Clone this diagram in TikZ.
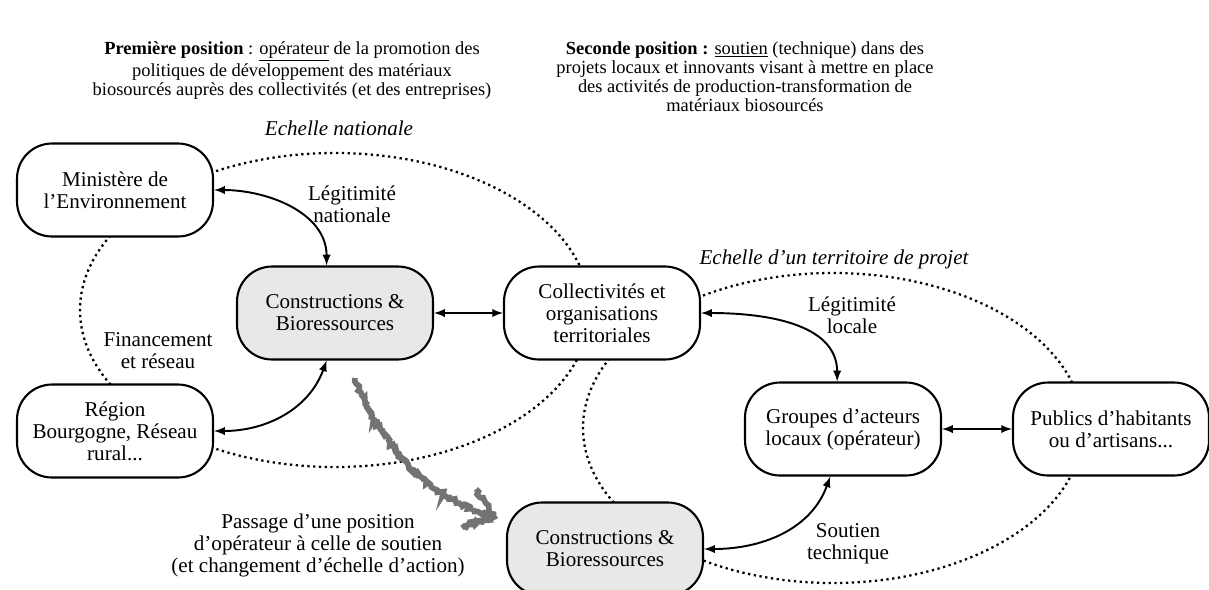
\documentclass[tikz,border=0pt]{standalone}
\usepackage{fontspec}
\setmainfont{Liberation Serif}
\usetikzlibrary{backgrounds,decorations.pathmorphing}
\colorlet{coregray}{black!9}
\colorlet{shiftgray}{black!55}
\newcommand{\boxfont}{\fontsize{12}{12.5}\selectfont}
\newcommand{\headfont}{\fontsize{10.5}{10.8}\selectfont}
\tikzset{
  box/.style = {
    draw, line width=1.2pt, fill=white, rounded corners=0.7cm,
    minimum width=3.92cm, minimum height=1.86cm,
    align=center, font=\boxfont
  },
  core/.style = {box, fill=coregray},
  link/.style = {<->, line width=1.1pt},
  scaleline/.style = {dotted, line width=1.3pt},
  label/.style = {align=center, font=\boxfont},
  moveline/.style = {
    shiftgray, line width=3.2pt,
    decoration={random steps, segment length=1.2pt, amplitude=1.2pt},
    decorate
  }
}
\tikzset{>=latex}

\begin{document}
\begin{tikzpicture}[x=0.02cm,y=-0.02cm]
  \useasboundingbox (0,0) rectangle (1209,589);

  % the two positions
  \node[align=center, font=\headfont, anchor=north, inner sep=0] (pos1) at (292,41)
    {\textbf{Première position} : \underline{opérateur} de la promotion des\\
     politiques de développement des matériaux\\
     biosourcés auprès des collectivités (et des entreprises)};
  \node[align=center, font=\headfont, anchor=north, inner sep=0] (pos2) at (745,41)
    {\textbf{Seconde position :} \underline{soutien} (technique) dans des\\
     projets locaux et innovants visant à mettre en place\\
     des activités de production-transformation de\\
     matériaux biosourcés};

  % actors
  \node[box]  (min) at (115,190) {Ministère de\\l'Environnement};
  \node[core] (cb1) at (335,313) {Constructions \&\\Bioressources};
  \node[box]  (col) at (602,313) {Collectivités et\\organisations\\territoriales};
  \node[box]  (reg) at (115,431) {Région\\Bourgogne, Réseau\\rural...};
  \node[box]  (grp) at (843,429) {Groupes d'acteurs\\locaux (opérateur)};
  \node[box]  (pub) at (1111,429) {Publics d'habitants\\ou d'artisans...};
  \node[core] (cb2) at (605,549) {Constructions \&\\Bioressources};

  % scales
  \node[label, font=\boxfont\itshape] (nat) at (339,128) {Echelle nationale};
  \node[label, font=\boxfont\itshape] (loc) at (834,259) {Echelle d'un territoire de projet};
  \begin{scope}[on background layer]
    \draw[scaleline] (335,310) ellipse [x radius=255, y radius=157];
    \draw[scaleline] (833,428) ellipse [x radius=250, y radius=155];
  \end{scope}

  % relations
  \node[label] (legnat) at (352,204) {Légitimité\\nationale};
  \node[label] (fin) at (158,351) {Financement\\et réseau};
  \node[label] (legloc) at (852,315) {Légitimité\\locale};
  \node[label] (sout) at (848,544) {Soutien\\technique};
  \draw[link] (min.east) to[out=0,in=90] (cb1.100);
  \draw[link] (reg.east) to[out=0,in=-110] (cb1.-100);
  \draw[link] (cb1.east) -- (col.west);
  \draw[link] (col.east) to[out=0,in=90] (grp.97);
  \draw[link] (grp.east) -- (pub.west);
  \draw[link] (cb2.east) to[out=0,in=-110] (grp.-105);

  % change of position
  \coordinate (from) at (355,378);
  \coordinate (to) at (494,517);
  \draw[moveline] (from) .. controls (385,455) and (430,497) .. (to);
  \draw[moveline] (476,489) -- (to) -- (462,528);
  \node[label] (pass) at (318,545)
    {Passage d'une position\\d'opérateur à celle de soutien\\(et changement d'échelle d'action)};
\end{tikzpicture}
\end{document}
